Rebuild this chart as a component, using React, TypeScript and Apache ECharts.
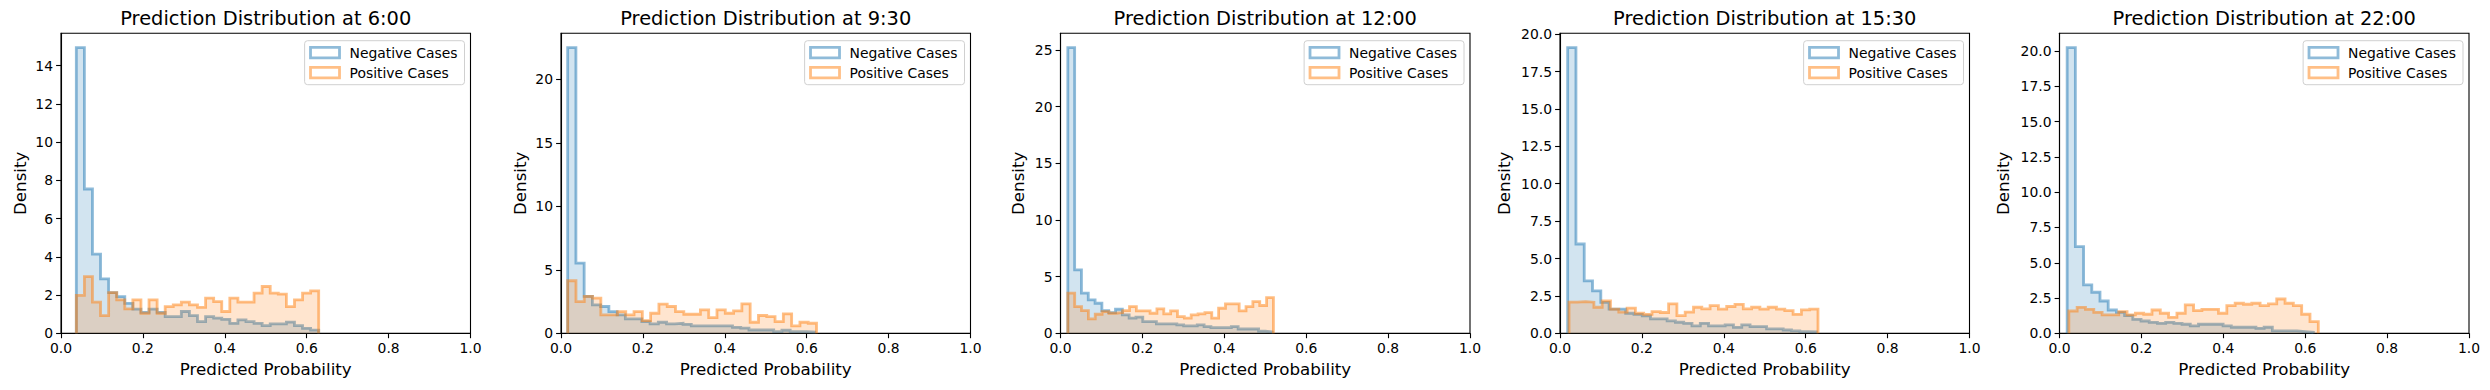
import React, { useEffect, useRef } from "react";
import * as echarts from "echarts";

const W = 2490;
const H = 390;

const TIMES = ["6:00", "9:30", "12:00", "15:30", "22:00"];

// histogram ranges [first edge, last edge] (30 equal bins each)
const NEG_RANGE = [
  [0.0374, 0.6293],
  [0.0163, 0.62],
  [0.0179, 0.517],
  [0.0187, 0.626],
  [0.0187, 0.62],
];
const POS_RANGE = [
  [0.0374, 0.6293],
  [0.0163, 0.624],
  [0.0179, 0.52],
  [0.022, 0.63],
  [0.0228, 0.632],
];

const NEG_600 = [14.95, 7.55, 4.14, 2.85, 2.13, 1.92, 1.57, 1.26, 1.1, 1.26, 1.1, 0.87, 0.87, 1.14, 0.93, 0.61, 0.87, 0.79, 0.73, 0.52, 0.7, 0.61, 0.52, 0.4, 0.49, 0.49, 0.58, 0.4, 0.26, 0.17];
const POS_600 = [1.98, 2.97, 1.63, 0.93, 2.13, 1.75, 1.28, 1.75, 1.05, 1.75, 1.05, 1.4, 1.49, 1.63, 1.49, 1.36, 1.84, 1.66, 1.14, 1.84, 1.63, 1.63, 2.1, 2.45, 2.1, 2.05, 1.4, 1.75, 2.1, 2.22];

const NEG_930 = [22.5, 5.53, 2.9, 2.24, 2.11, 1.71, 1.45, 1.13, 1.13, 0.92, 0.74, 0.87, 0.74, 0.79, 0.71, 0.58, 0.58, 0.58, 0.58, 0.58, 0.47, 0.4, 0.26, 0.26, 0.26, 0.13, 0.24, 0.13, 0.13, 0.1];
const POS_930 = [4.14, 2.5, 2.9, 2.77, 1.45, 1.45, 1.71, 1.45, 1.71, 1.0, 1.58, 2.29, 2.11, 1.71, 1.5, 1.5, 1.84, 1.24, 1.84, 1.58, 1.77, 2.32, 0.87, 1.4, 1.32, 0.92, 1.53, 0.58, 0.87, 0.79];

const NEG_1200 = [25.2, 5.6, 3.54, 2.95, 2.65, 2.0, 1.83, 2.12, 1.62, 1.33, 1.42, 1.03, 1.03, 0.83, 0.83, 0.83, 0.74, 0.65, 0.65, 0.74, 0.59, 0.5, 0.5, 0.5, 0.59, 0.38, 0.38, 0.38, 0.18, 0.12];
const POS_1200 = [3.54, 2.36, 2.0, 1.27, 1.68, 1.92, 1.77, 1.83, 2.0, 2.36, 1.98, 1.98, 1.77, 2.15, 1.71, 1.98, 1.47, 1.33, 1.62, 1.71, 1.83, 1.33, 2.21, 2.59, 2.59, 1.98, 2.36, 2.8, 2.45, 3.15];

const NEG_1530 = [19.1, 5.97, 3.51, 2.84, 2.07, 1.61, 1.61, 1.34, 1.27, 1.16, 0.96, 0.96, 0.83, 0.74, 0.67, 0.49, 0.67, 0.49, 0.49, 0.56, 0.4, 0.56, 0.45, 0.45, 0.29, 0.29, 0.22, 0.16, 0.11, 0.09];
const POS_1530 = [2.08, 2.12, 2.08, 1.74, 2.17, 1.61, 1.41, 1.68, 1.34, 1.27, 1.45, 1.39, 1.97, 1.18, 1.41, 1.74, 1.63, 1.85, 1.61, 1.79, 1.94, 1.63, 1.74, 1.61, 1.74, 1.61, 1.52, 1.27, 1.56, 1.61];

const NEG_2200 = [20.25, 6.15, 3.43, 2.91, 2.29, 1.65, 1.49, 1.25, 0.99, 0.87, 0.78, 0.71, 0.78, 0.71, 0.64, 0.52, 0.64, 0.64, 0.64, 0.52, 0.43, 0.43, 0.43, 0.35, 0.43, 0.17, 0.17, 0.17, 0.12, 0.07];
const POS_2200 = [1.58, 1.84, 1.7, 1.49, 1.3, 1.3, 1.54, 1.3, 1.42, 1.35, 1.65, 1.42, 1.13, 1.42, 2.01, 1.61, 1.7, 1.7, 1.42, 1.96, 2.13, 2.06, 2.13, 1.96, 2.08, 2.43, 2.13, 1.96, 1.35, 0.83];

const NEG = [NEG_600, NEG_930, NEG_1200, NEG_1530, NEG_2200];
const POS = [POS_600, POS_930, POS_1200, POS_1530, POS_2200];

const X_TICKS = [0, 0.2, 0.4, 0.6, 0.8, 1.0];
const Y_TICKS = [
  [0, 2, 4, 6, 8, 10, 12, 14],
  [0, 5, 10, 15, 20],
  [0, 5, 10, 15, 20, 25],
  [0, 2.5, 5, 7.5, 10, 12.5, 15, 17.5, 20],
  [0, 2.5, 5, 7.5, 10, 12.5, 15, 17.5, 20],
];
const Y_DECIMALS = [0, 0, 0, 1, 1];

// layout
const AX_LEFT = [61, 561, 1060.5, 1560, 2059.5];
const AX_W = 409.5;
const AX_TOP = 33.3;
const AX_H = 300;
const NAME_GAP_Y = [33, 33, 34, 48, 48];

const FONT = "DejaVu Sans";
const BLUE_FILL = "rgba(31,119,180,0.2)";
const BLUE_EDGE = "rgba(31,119,180,0.5)";
const ORANGE_FILL = "rgba(255,127,14,0.2)";
const ORANGE_EDGE = "rgba(255,127,14,0.5)";

function stepData(values: number[], range: number[]) {
  const n = values.length;
  const w = (range[1] - range[0]) / n;
  const pts: number[][] = [[range[0], 0]];
  for (let i = 0; i < n; i++) pts.push([range[0] + i * w, values[i]]);
  pts.push([range[1], values[n - 1]]);
  pts.push([range[1], 0]);
  return pts;
}

export default function App() {
  const ref = useRef<HTMLDivElement>(null);
  useEffect(() => {
    if (!ref.current) return;
    const chart = echarts.init(ref.current, undefined, { renderer: "svg" });
    const grids: any[] = [];
    const xAxes: any[] = [];
    const yAxes: any[] = [];
    const series: any[] = [];
    const titles: any[] = [];
    const legends: any[] = [];
    TIMES.forEach((t, i) => {
      const ymax = 1.05 * Math.max(...NEG[i], ...POS[i]);
      grids.push({
        left: AX_LEFT[i],
        top: AX_TOP,
        width: AX_W,
        height: AX_H,
        show: true,
        borderColor: "#000",
        borderWidth: 1.1,
        backgroundColor: "transparent",
      });
      xAxes.push({
        type: "value",
        gridIndex: i,
        min: 0,
        max: 1,
        name: "Predicted Probability",
        nameLocation: "middle",
        nameGap: 27,
        nameTextStyle: { fontFamily: FONT, fontSize: 16.7, color: "#000" },
        axisLine: { show: true, onZero: false, lineStyle: { color: "#000", width: 1.1 } },
        axisTick: { show: true, length: 4.9, lineStyle: { color: "#000", width: 1.1 }, customValues: X_TICKS },
        axisLabel: {
          show: true,
          margin: 8,
          fontFamily: FONT,
          fontSize: 13.9,
          color: "#000",
          customValues: X_TICKS,
          formatter: (v: number) => v.toFixed(1),
        },
        splitLine: { show: false },
      });
      yAxes.push({
        type: "value",
        gridIndex: i,
        min: 0,
        max: ymax,
        name: "Density",
        nameLocation: "middle",
        nameRotate: 90,
        nameGap: NAME_GAP_Y[i],
        nameTextStyle: { fontFamily: FONT, fontSize: 16.7, color: "#000" },
        axisLine: { show: true, onZero: false, lineStyle: { color: "#000", width: 1.1 } },
        axisTick: { show: true, length: 4.9, lineStyle: { color: "#000", width: 1.1 }, customValues: Y_TICKS[i] },
        axisLabel: {
          show: true,
          margin: 8,
          fontFamily: FONT,
          fontSize: 13.9,
          color: "#000",
          customValues: Y_TICKS[i],
          formatter: (v: number) => v.toFixed(Y_DECIMALS[i]),
        },
        splitLine: { show: false },
      });
      series.push({
        type: "line",
        name: "Negative Cases",
        xAxisIndex: i,
        yAxisIndex: i,
        data: stepData(NEG[i], NEG_RANGE[i]),
        step: "end",
        showSymbol: false,
        symbol: "none",
        lineStyle: { color: BLUE_EDGE, width: 2.8, join: "miter" },
        itemStyle: { color: BLUE_EDGE },
        areaStyle: { color: BLUE_FILL, opacity: 1 },
        silent: true,
        z: 2,
      });
      series.push({
        type: "line",
        name: "Positive Cases",
        xAxisIndex: i,
        yAxisIndex: i,
        data: stepData(POS[i], POS_RANGE[i]),
        step: "end",
        showSymbol: false,
        symbol: "none",
        lineStyle: { color: ORANGE_EDGE, width: 2.8, join: "miter" },
        itemStyle: { color: ORANGE_EDGE },
        areaStyle: { color: ORANGE_FILL, opacity: 1 },
        silent: true,
        z: 3,
      });
      titles.push({
        text: "Prediction Distribution at " + t,
        left: AX_LEFT[i] + AX_W / 2,
        textAlign: "center",
        top: 6.5,
        padding: 0,
        textStyle: { fontFamily: FONT, fontSize: 19.4, fontWeight: "normal", color: "#000", lineHeight: 23 },
      });
      legends.push({
        orient: "vertical",
        right: W - (AX_LEFT[i] + AX_W - 6),
        top: AX_TOP + 7.4,
        padding: [5, 7, 5, 4.5],
        itemWidth: 29,
        itemHeight: 10.5,
        itemGap: 6,
        selectedMode: false,
        borderColor: "#d0d0d0",
        borderWidth: 1,
        borderRadius: 3,
        backgroundColor: "rgba(255,255,255,0.8)",
        textStyle: { fontFamily: FONT, fontSize: 13.9, color: "#000", padding: [0, 0, 0, 5] },
        data: [
          {
            name: "Negative Cases",
            icon: "rect",
            itemStyle: { color: "rgba(0,0,0,0)", borderColor: BLUE_EDGE, borderWidth: 2.8 },
          },
          {
            name: "Positive Cases",
            icon: "rect",
            itemStyle: { color: "rgba(0,0,0,0)", borderColor: ORANGE_EDGE, borderWidth: 2.8 },
          },
        ],
      });
    });
    chart.setOption({
      animation: false,
      backgroundColor: "#fff",
      title: titles,
      legend: legends,
      grid: grids,
      xAxis: xAxes,
      yAxis: yAxes,
      series,
    });
    return () => chart.dispose();
  }, []);
  return (
    <div
      ref={ref}
      style={{ position: "fixed", left: 0, top: 0, width: W, height: H, background: "#fff" }}
    />
  );
}
